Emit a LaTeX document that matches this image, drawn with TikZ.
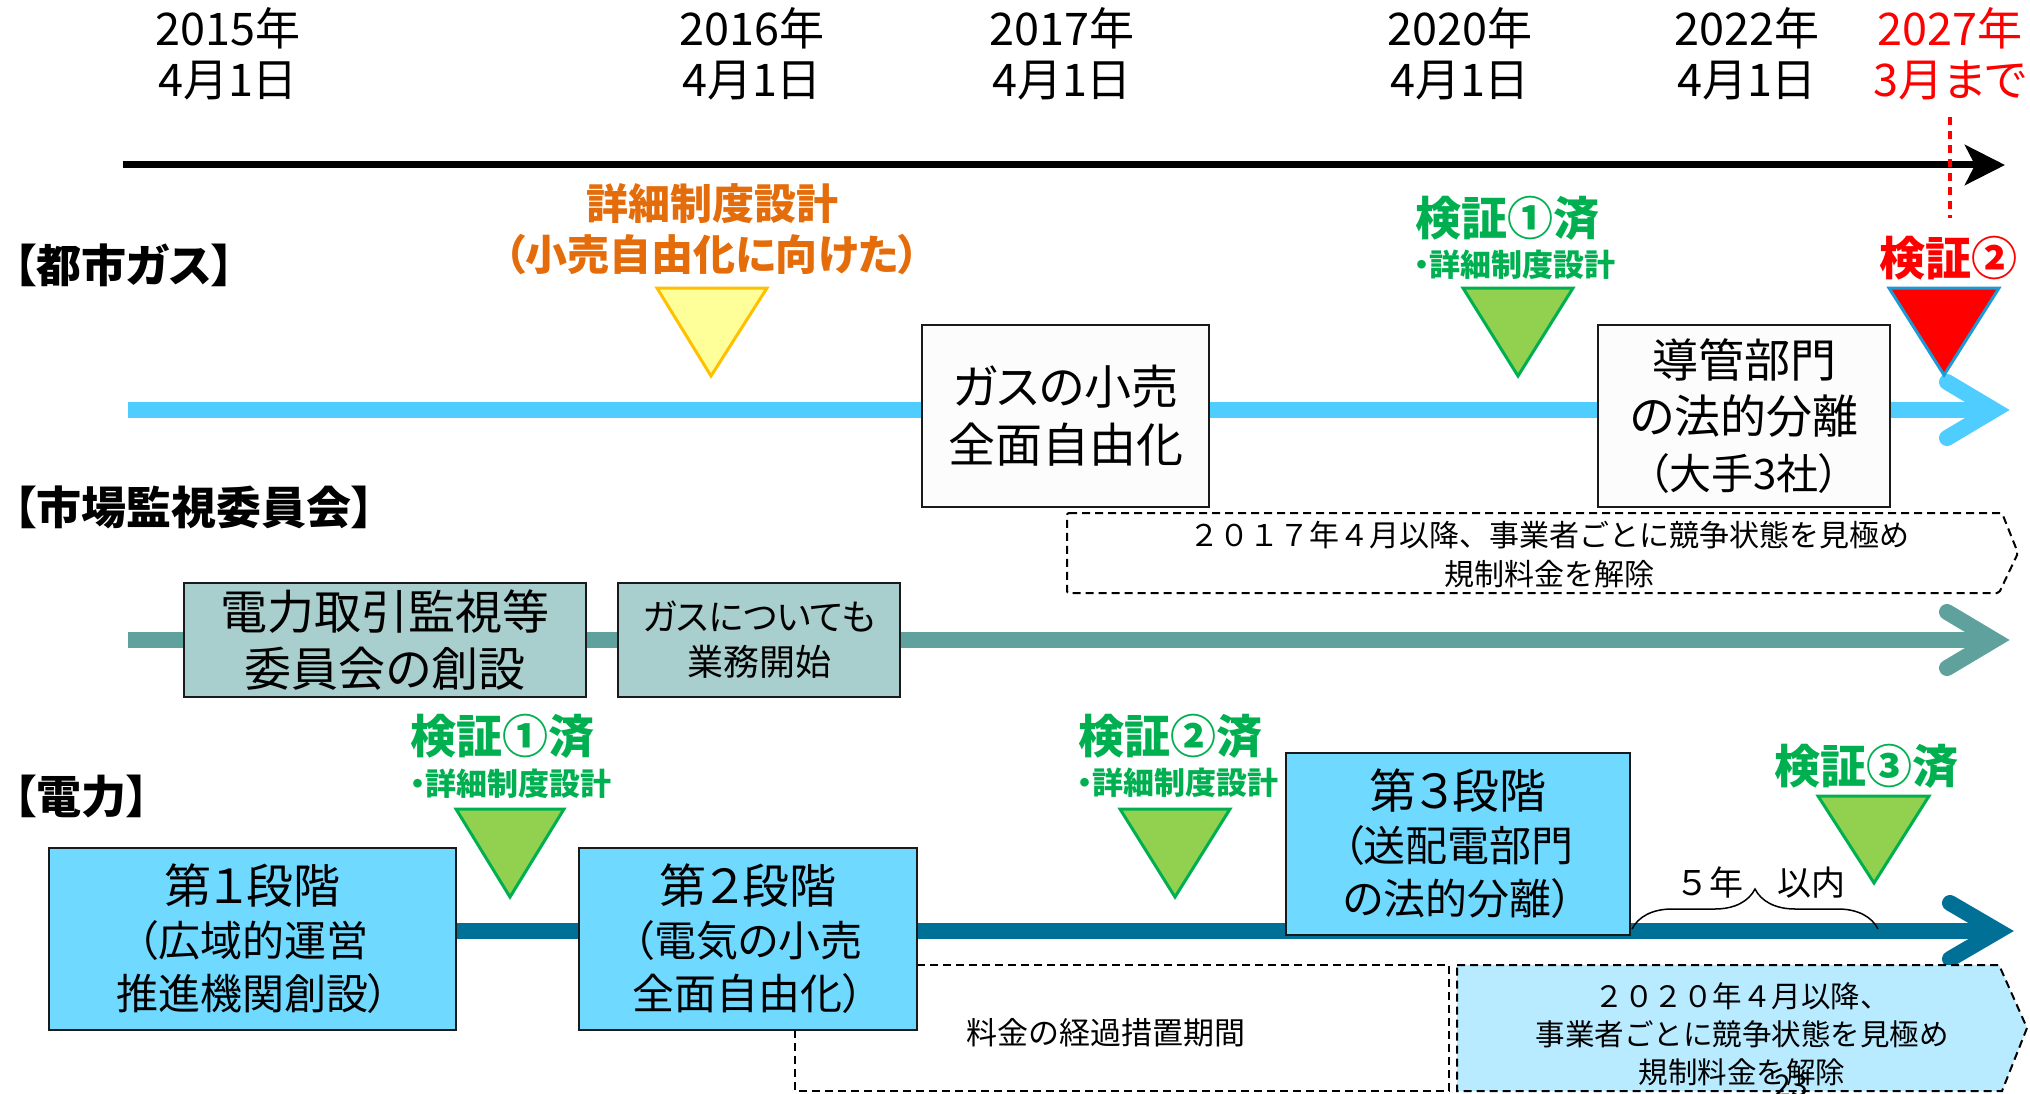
\documentclass[tikz,border=0pt]{standalone}
\usepackage{fontspec}
\setmainfont{Noto Sans CJK JP}[RawFeature=+palt]
\newfontfamily\jpn{Noto Sans CJK JP}
\usetikzlibrary{arrows.meta,decorations.pathreplacing}
\definecolor{gasc}{HTML}{4FCDFF}
\definecolor{mktc}{HTML}{5FA19D}
\definecolor{elec}{HTML}{007096}
\definecolor{mktbox}{HTML}{A9CECE}
\definecolor{elbox}{HTML}{70D9FF}
\definecolor{ltblue}{HTML}{B8EBFF}
\definecolor{vgreen}{HTML}{00B050}
\definecolor{trigreen}{HTML}{92D050}
\definecolor{yelf}{HTML}{FFFF99}
\definecolor{yelo}{HTML}{FFC000}
\definecolor{orng}{HTML}{E46C0A}
\definecolor{boxline}{HTML}{1A1A1A}
\definecolor{gasbox}{HTML}{FBFCFB}
\definecolor{redtri}{HTML}{FF0000}
\definecolor{redtriline}{HTML}{1C9AD6}
\newcommand\fs[2]{\fontsize{#1}{#2}\selectfont}
\begin{document}
\begin{tikzpicture}[x=1pt,y=-1pt,
  yr/.style={font={\jpn\fs{45}{51}}, align=center, inner sep=0pt},
  hd/.style={font={\bfseries\fs{45}{54}}, anchor=west, inner sep=0pt},
  lbl/.style={font={\bfseries\fs{46}{54}}, text=vgreen, inner sep=0pt},
  sublbl/.style={font={\bfseries\fs{31}{36}}, text=vgreen, inner sep=0pt},
  bx/.style={draw=boxline, line width=2.5pt, inner sep=0pt, align=center},
  tline/.style={line width=16pt},
  chev/.style={line width=16pt, line cap=round, line join=miter},
  tri/.style={line width=3pt, line join=miter},
  dsh/.style={draw=black, line width=2pt, dash pattern=on 8pt off 5pt},
  small/.style={font={\jpn\fs{30}{39}}, align=center, inner sep=0pt},
]
\useasboundingbox (0,0) rectangle (2030,1094);

% year labels
\node[yr] (y2015) at (228,54) {2015年\\4月1日};
\node[yr] (y2016) at (752,54) {2016年\\4月1日};
\node[yr] (y2017) at (1062,54) {2017年\\4月1日};
\node[yr] (y2020) at (1460,54) {2020年\\4月1日};
\node[yr] (y2022) at (1747,54) {2022年\\4月1日};
\node[yr, font={\fs{45}{51}}, text=red] (y2027) at (1950,54) {2027年\\3月まで};

% main axis
\coordinate (axs) at (123,165);
\coordinate (axe) at (2005,165);
\draw[line width=7pt, -{Stealth[length=40pt,width=40pt,inset=10pt]}] (axs) -- (axe);
\coordinate (rd1) at (1950,117);
\coordinate (rd2) at (1950,218);
\draw[red, line width=4.5pt, dash pattern=on 8pt off 6pt] (rd1) -- (rd2);

% headings
\node[hd] (hgas) at (14,265) {【都市ガス】};
\node[hd] (hmkt) at (14,507) {【市場監視委員会】};
\node[hd] (hele) at (14,797) {【電力】};

% timelines
\coordinate (g0) at (128,410);
\coordinate (g1) at (1994,410);
\coordinate (ga) at (1947,382);
\coordinate (gb) at (1947,438);
\draw[tline, gasc] (g0) -- (g1);
\draw[chev, gasc] (ga) -- (g1) -- (gb);

\coordinate (m0) at (128,640);
\coordinate (m1) at (1994,640);
\coordinate (ma) at (1947,612);
\coordinate (mb) at (1947,668);
\draw[tline, mktc] (m0) -- (m1);
\draw[chev, mktc] (ma) -- (m1) -- (mb);

\coordinate (e0) at (128,931);
\coordinate (e1) at (1998,931);
\coordinate (ea) at (1950,903);
\coordinate (eb) at (1950,959);
\draw[tline, elec] (e0) -- (e1);
\draw[chev, elec] (ea) -- (e1) -- (eb);

% dashed regions
\draw[dsh, rounded corners=2pt] (1067,513) -- (2002,513) -- (2018,553) -- (1999,593) -- (1067,593) -- cycle;
\node[small] (gasdereg) at (1549,555) {２０１７年４月以降、事業者ごとに競争状態を見極め\\規制料金を解除};

\draw[dsh] (795,965) rectangle (1449,1091);
\node[font={\jpn\fs{31}{36}}, inner sep=0pt] (keika) at (1106,1033) {料金の経過措置期間};

\draw[dsh, fill=ltblue] (1457,965) -- (1999,965) -- (2027,1028) -- (2002,1091) -- (1457,1091) -- cycle;
\node[font={\jpn\fs{29.5}{38}}, align=center, inner sep=0pt] (eldereg) at (1742,1034) {２０２０年４月以降、\\事業者ごとに競争状態を見極め\\規制料金を解除};

% boxes
\node[bx, fill=gasbox, minimum width=287pt, minimum height=182pt, font={\fs{47}{58}}] (gasfull) at (1065.5,416) {ガスの小売\\全面自由化};
\node[bx, fill=gasbox, minimum width=292pt, minimum height=182pt, font={\fs{46}{56}}] (dokan) at (1744,416) {導管部門\\の法的分離\\{\fs{42}{56}（大手3社）}};

\node[bx, fill=mktbox, minimum width=402pt, minimum height=114pt, font={\fs{47}{57}}] (mkt1) at (385,640) {電力取引監視等\\委員会の創設};
\node[bx, fill=mktbox, minimum width=282pt, minimum height=114pt, font={\fs{36}{45}}] (mkt2) at (759,640) {ガスについても\\業務開始};

\node[bx, fill=elbox, minimum width=407pt, minimum height=182pt, font={\fs{47}{53}}] (st1) at (252.5,939) {第１段階\\{\fs{42}{53}（広域的運営}\\{\fs{42}{53}推進機関創設）}};
\node[bx, fill=elbox, minimum width=338pt, minimum height=182pt, font={\fs{47}{53}}] (st2) at (748,939) {第２段階\\{\fs{42}{53}（電気の小売}\\{\fs{42}{53}全面自由化）}};
\node[bx, fill=elbox, minimum width=344pt, minimum height=182pt, font={\fs{47}{53}}] (st3) at (1458,844) {第３段階\\{\fs{42}{53}（送配電部門}\\{\fs{42}{53}の法的分離）}};

% brace
\coordinate (br0) at (1632,929);
\coordinate (br1) at (1878,929);
\draw[line width=1.5pt, decorate, decoration={brace, amplitude=40pt}] (br0) -- (br1);
\node[font={\jpn\fs{34}{40}}, inner sep=0pt] (fiveyr) at (1760,883) {５年　以内};

% triangles
\draw[tri, draw=yelo, fill=yelf] (657,288) -- (767,288) -- (711,376) -- cycle;
\draw[tri, draw=vgreen, fill=trigreen] (1463,288) -- (1573,288) -- (1518,376) -- cycle;
\draw[tri, draw=redtriline, fill=redtri] (1889,288) -- (1999,288) -- (1944,375) -- cycle;
\draw[tri, draw=vgreen, fill=trigreen] (456,809) -- (564,809) -- (510,897) -- cycle;
\draw[tri, draw=vgreen, fill=trigreen] (1120,809) -- (1230,809) -- (1175,897) -- cycle;
\draw[tri, draw=vgreen, fill=trigreen] (1818,796) -- (1929,796) -- (1874,883) -- cycle;

% labels
\node[font={\bfseries\fs{42}{51}}, text=orng, align=center, inner sep=0pt] (gasdesign) at (712,229) {詳細制度設計\\（小売自由化に向けた）};
\node[lbl] (gv1) at (1507,218) {検証①済};
\node[sublbl] (gv1s) at (1515,265) {・詳細制度設計};
\node[lbl, text=red] (gv2) at (1948,258) {検証②};
\node[lbl] (ev1) at (502,736) {検証①済};
\node[sublbl] (ev1s) at (511,784) {・詳細制度設計};
\node[lbl] (ev2) at (1170,736) {検証②済};
\node[sublbl] (ev2s) at (1178,783) {・詳細制度設計};
\node[lbl] (ev3) at (1866,766) {検証③済};

\node[font={\jpn\fs{30}{36}}, inner sep=0pt] (pageno) at (1791,1086) {23};
\end{tikzpicture}
\end{document}
